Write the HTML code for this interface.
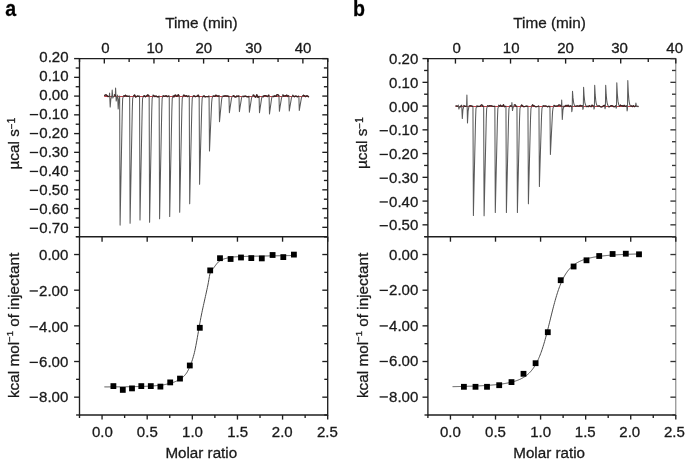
<!DOCTYPE html>
<html><head><meta charset="utf-8"><style>
html,body{margin:0;padding:0;background:#fff;width:685px;height:462px;overflow:hidden}
svg{display:block;will-change:transform}
text{stroke:#1a1a1a;stroke-width:0.3px}
</style></head><body>
<svg width="685" height="462" viewBox="0 0 685 462" style="font-family:'Liberation Sans', sans-serif"><g id="root">
<rect width="685" height="462" fill="#fff"/>
<line x1="79.50" y1="58.60" x2="327.70" y2="58.60" stroke="#1e1e1e" stroke-width="1.35"/>
<line x1="79.50" y1="236.70" x2="327.70" y2="236.70" stroke="#1e1e1e" stroke-width="1.35"/>
<line x1="79.50" y1="415.00" x2="327.70" y2="415.00" stroke="#1e1e1e" stroke-width="1.35"/>
<line x1="79.50" y1="58.00" x2="79.50" y2="415.60" stroke="#1e1e1e" stroke-width="1.35"/>
<line x1="327.70" y1="58.00" x2="327.70" y2="415.60" stroke="#1e1e1e" stroke-width="1.35"/>
<line x1="74.10" y1="58.60" x2="79.50" y2="58.60" stroke="#1e1e1e" stroke-width="1.35"/>
<line x1="322.30" y1="58.60" x2="327.70" y2="58.60" stroke="#1e1e1e" stroke-width="1.35"/>
<text transform="translate(68.50,62.30) scale(1.000,1)" text-anchor="end" font-size="15.0" font-weight="normal" fill="#1a1a1a">0.20</text>
<line x1="75.70" y1="67.97" x2="79.50" y2="67.97" stroke="#1e1e1e" stroke-width="1.35"/>
<line x1="323.90" y1="67.97" x2="327.70" y2="67.97" stroke="#1e1e1e" stroke-width="1.35"/>
<line x1="74.10" y1="77.35" x2="79.50" y2="77.35" stroke="#1e1e1e" stroke-width="1.35"/>
<line x1="322.30" y1="77.35" x2="327.70" y2="77.35" stroke="#1e1e1e" stroke-width="1.35"/>
<text transform="translate(68.50,81.46) scale(1.000,1)" text-anchor="end" font-size="15.0" font-weight="normal" fill="#1a1a1a">0.10</text>
<line x1="75.70" y1="86.72" x2="79.50" y2="86.72" stroke="#1e1e1e" stroke-width="1.35"/>
<line x1="323.90" y1="86.72" x2="327.70" y2="86.72" stroke="#1e1e1e" stroke-width="1.35"/>
<line x1="74.10" y1="96.09" x2="79.50" y2="96.09" stroke="#1e1e1e" stroke-width="1.35"/>
<line x1="322.30" y1="96.09" x2="327.70" y2="96.09" stroke="#1e1e1e" stroke-width="1.35"/>
<text transform="translate(68.50,100.40) scale(1.000,1)" text-anchor="end" font-size="15.0" font-weight="normal" fill="#1a1a1a">0.00</text>
<line x1="75.70" y1="105.47" x2="79.50" y2="105.47" stroke="#1e1e1e" stroke-width="1.35"/>
<line x1="323.90" y1="105.47" x2="327.70" y2="105.47" stroke="#1e1e1e" stroke-width="1.35"/>
<line x1="74.10" y1="114.84" x2="79.50" y2="114.84" stroke="#1e1e1e" stroke-width="1.35"/>
<line x1="322.30" y1="114.84" x2="327.70" y2="114.84" stroke="#1e1e1e" stroke-width="1.35"/>
<text transform="translate(68.50,119.34) scale(1.000,1)" text-anchor="end" font-size="15.0" font-weight="normal" fill="#1a1a1a">0.10</text>
<rect x="29.80" y="113.94" width="8.3" height="1.35" fill="#1a1a1a"/>
<line x1="75.70" y1="124.22" x2="79.50" y2="124.22" stroke="#1e1e1e" stroke-width="1.35"/>
<line x1="323.90" y1="124.22" x2="327.70" y2="124.22" stroke="#1e1e1e" stroke-width="1.35"/>
<line x1="74.10" y1="133.59" x2="79.50" y2="133.59" stroke="#1e1e1e" stroke-width="1.35"/>
<line x1="322.30" y1="133.59" x2="327.70" y2="133.59" stroke="#1e1e1e" stroke-width="1.35"/>
<text transform="translate(68.50,138.28) scale(1.000,1)" text-anchor="end" font-size="15.0" font-weight="normal" fill="#1a1a1a">0.20</text>
<rect x="29.80" y="132.88" width="8.3" height="1.35" fill="#1a1a1a"/>
<line x1="75.70" y1="142.96" x2="79.50" y2="142.96" stroke="#1e1e1e" stroke-width="1.35"/>
<line x1="323.90" y1="142.96" x2="327.70" y2="142.96" stroke="#1e1e1e" stroke-width="1.35"/>
<line x1="74.10" y1="152.34" x2="79.50" y2="152.34" stroke="#1e1e1e" stroke-width="1.35"/>
<line x1="322.30" y1="152.34" x2="327.70" y2="152.34" stroke="#1e1e1e" stroke-width="1.35"/>
<text transform="translate(68.50,157.22) scale(1.000,1)" text-anchor="end" font-size="15.0" font-weight="normal" fill="#1a1a1a">0.30</text>
<rect x="29.80" y="151.82" width="8.3" height="1.35" fill="#1a1a1a"/>
<line x1="75.70" y1="161.71" x2="79.50" y2="161.71" stroke="#1e1e1e" stroke-width="1.35"/>
<line x1="323.90" y1="161.71" x2="327.70" y2="161.71" stroke="#1e1e1e" stroke-width="1.35"/>
<line x1="74.10" y1="171.08" x2="79.50" y2="171.08" stroke="#1e1e1e" stroke-width="1.35"/>
<line x1="322.30" y1="171.08" x2="327.70" y2="171.08" stroke="#1e1e1e" stroke-width="1.35"/>
<text transform="translate(68.50,176.16) scale(1.000,1)" text-anchor="end" font-size="15.0" font-weight="normal" fill="#1a1a1a">0.40</text>
<rect x="29.80" y="170.76" width="8.3" height="1.35" fill="#1a1a1a"/>
<line x1="75.70" y1="180.46" x2="79.50" y2="180.46" stroke="#1e1e1e" stroke-width="1.35"/>
<line x1="323.90" y1="180.46" x2="327.70" y2="180.46" stroke="#1e1e1e" stroke-width="1.35"/>
<line x1="74.10" y1="189.83" x2="79.50" y2="189.83" stroke="#1e1e1e" stroke-width="1.35"/>
<line x1="322.30" y1="189.83" x2="327.70" y2="189.83" stroke="#1e1e1e" stroke-width="1.35"/>
<text transform="translate(68.50,195.10) scale(1.000,1)" text-anchor="end" font-size="15.0" font-weight="normal" fill="#1a1a1a">0.50</text>
<rect x="29.80" y="189.70" width="8.3" height="1.35" fill="#1a1a1a"/>
<line x1="75.70" y1="199.21" x2="79.50" y2="199.21" stroke="#1e1e1e" stroke-width="1.35"/>
<line x1="323.90" y1="199.21" x2="327.70" y2="199.21" stroke="#1e1e1e" stroke-width="1.35"/>
<line x1="74.10" y1="208.58" x2="79.50" y2="208.58" stroke="#1e1e1e" stroke-width="1.35"/>
<line x1="322.30" y1="208.58" x2="327.70" y2="208.58" stroke="#1e1e1e" stroke-width="1.35"/>
<text transform="translate(68.50,214.04) scale(1.000,1)" text-anchor="end" font-size="15.0" font-weight="normal" fill="#1a1a1a">0.60</text>
<rect x="29.80" y="208.64" width="8.3" height="1.35" fill="#1a1a1a"/>
<line x1="75.70" y1="217.95" x2="79.50" y2="217.95" stroke="#1e1e1e" stroke-width="1.35"/>
<line x1="323.90" y1="217.95" x2="327.70" y2="217.95" stroke="#1e1e1e" stroke-width="1.35"/>
<line x1="74.10" y1="227.33" x2="79.50" y2="227.33" stroke="#1e1e1e" stroke-width="1.35"/>
<line x1="322.30" y1="227.33" x2="327.70" y2="227.33" stroke="#1e1e1e" stroke-width="1.35"/>
<text transform="translate(68.50,232.98) scale(1.000,1)" text-anchor="end" font-size="15.0" font-weight="normal" fill="#1a1a1a">0.70</text>
<rect x="29.80" y="227.58" width="8.3" height="1.35" fill="#1a1a1a"/>
<line x1="75.70" y1="236.70" x2="79.50" y2="236.70" stroke="#1e1e1e" stroke-width="1.35"/>
<line x1="323.90" y1="236.70" x2="327.70" y2="236.70" stroke="#1e1e1e" stroke-width="1.35"/>
<line x1="79.50" y1="58.60" x2="79.50" y2="62.00" stroke="#1e1e1e" stroke-width="1.35"/>
<line x1="104.32" y1="58.60" x2="104.32" y2="63.60" stroke="#1e1e1e" stroke-width="1.35"/>
<text transform="translate(105.32,53.40) scale(1.000,1)" text-anchor="middle" font-size="15.0" font-weight="normal" fill="#1a1a1a">0</text>
<line x1="129.14" y1="58.60" x2="129.14" y2="62.00" stroke="#1e1e1e" stroke-width="1.35"/>
<line x1="153.96" y1="58.60" x2="153.96" y2="63.60" stroke="#1e1e1e" stroke-width="1.35"/>
<text transform="translate(154.86,53.40) scale(1.000,1)" text-anchor="middle" font-size="15.0" font-weight="normal" fill="#1a1a1a">10</text>
<line x1="178.78" y1="58.60" x2="178.78" y2="62.00" stroke="#1e1e1e" stroke-width="1.35"/>
<line x1="203.60" y1="58.60" x2="203.60" y2="63.60" stroke="#1e1e1e" stroke-width="1.35"/>
<text transform="translate(203.80,53.40) scale(1.000,1)" text-anchor="middle" font-size="15.0" font-weight="normal" fill="#1a1a1a">20</text>
<line x1="228.42" y1="58.60" x2="228.42" y2="62.00" stroke="#1e1e1e" stroke-width="1.35"/>
<line x1="253.24" y1="58.60" x2="253.24" y2="63.60" stroke="#1e1e1e" stroke-width="1.35"/>
<text transform="translate(253.54,53.40) scale(1.000,1)" text-anchor="middle" font-size="15.0" font-weight="normal" fill="#1a1a1a">30</text>
<line x1="278.06" y1="58.60" x2="278.06" y2="62.00" stroke="#1e1e1e" stroke-width="1.35"/>
<line x1="302.88" y1="58.60" x2="302.88" y2="63.60" stroke="#1e1e1e" stroke-width="1.35"/>
<text transform="translate(303.08,53.40) scale(1.000,1)" text-anchor="middle" font-size="15.0" font-weight="normal" fill="#1a1a1a">40</text>
<line x1="327.70" y1="58.60" x2="327.70" y2="62.00" stroke="#1e1e1e" stroke-width="1.35"/>
<line x1="76.10" y1="236.70" x2="79.50" y2="236.70" stroke="#1e1e1e" stroke-width="1.35"/>
<line x1="324.30" y1="236.70" x2="327.70" y2="236.70" stroke="#1e1e1e" stroke-width="1.35"/>
<line x1="74.10" y1="254.53" x2="79.50" y2="254.53" stroke="#1e1e1e" stroke-width="1.35"/>
<line x1="322.30" y1="254.53" x2="327.70" y2="254.53" stroke="#1e1e1e" stroke-width="1.35"/>
<text transform="translate(68.30,259.93) scale(1.000,1)" text-anchor="end" font-size="15.0" font-weight="normal" fill="#1a1a1a">0.00</text>
<line x1="76.10" y1="272.36" x2="79.50" y2="272.36" stroke="#1e1e1e" stroke-width="1.35"/>
<line x1="324.30" y1="272.36" x2="327.70" y2="272.36" stroke="#1e1e1e" stroke-width="1.35"/>
<line x1="74.10" y1="290.19" x2="79.50" y2="290.19" stroke="#1e1e1e" stroke-width="1.35"/>
<line x1="322.30" y1="290.19" x2="327.70" y2="290.19" stroke="#1e1e1e" stroke-width="1.35"/>
<text transform="translate(68.30,295.69) scale(1.000,1)" text-anchor="end" font-size="15.0" font-weight="normal" fill="#1a1a1a">2.00</text>
<rect x="29.60" y="290.29" width="8.3" height="1.35" fill="#1a1a1a"/>
<line x1="76.10" y1="308.02" x2="79.50" y2="308.02" stroke="#1e1e1e" stroke-width="1.35"/>
<line x1="324.30" y1="308.02" x2="327.70" y2="308.02" stroke="#1e1e1e" stroke-width="1.35"/>
<line x1="74.10" y1="325.85" x2="79.50" y2="325.85" stroke="#1e1e1e" stroke-width="1.35"/>
<line x1="322.30" y1="325.85" x2="327.70" y2="325.85" stroke="#1e1e1e" stroke-width="1.35"/>
<text transform="translate(68.30,331.55) scale(1.000,1)" text-anchor="end" font-size="15.0" font-weight="normal" fill="#1a1a1a">4.00</text>
<rect x="29.60" y="326.15" width="8.3" height="1.35" fill="#1a1a1a"/>
<line x1="76.10" y1="343.68" x2="79.50" y2="343.68" stroke="#1e1e1e" stroke-width="1.35"/>
<line x1="324.30" y1="343.68" x2="327.70" y2="343.68" stroke="#1e1e1e" stroke-width="1.35"/>
<line x1="74.10" y1="361.51" x2="79.50" y2="361.51" stroke="#1e1e1e" stroke-width="1.35"/>
<line x1="322.30" y1="361.51" x2="327.70" y2="361.51" stroke="#1e1e1e" stroke-width="1.35"/>
<text transform="translate(68.30,367.11) scale(1.000,1)" text-anchor="end" font-size="15.0" font-weight="normal" fill="#1a1a1a">6.00</text>
<rect x="29.60" y="361.71" width="8.3" height="1.35" fill="#1a1a1a"/>
<line x1="76.10" y1="379.34" x2="79.50" y2="379.34" stroke="#1e1e1e" stroke-width="1.35"/>
<line x1="324.30" y1="379.34" x2="327.70" y2="379.34" stroke="#1e1e1e" stroke-width="1.35"/>
<line x1="74.10" y1="397.17" x2="79.50" y2="397.17" stroke="#1e1e1e" stroke-width="1.35"/>
<line x1="322.30" y1="397.17" x2="327.70" y2="397.17" stroke="#1e1e1e" stroke-width="1.35"/>
<text transform="translate(68.30,401.97) scale(1.000,1)" text-anchor="end" font-size="15.0" font-weight="normal" fill="#1a1a1a">8.00</text>
<rect x="29.60" y="396.57" width="8.3" height="1.35" fill="#1a1a1a"/>
<line x1="76.10" y1="415.00" x2="79.50" y2="415.00" stroke="#1e1e1e" stroke-width="1.35"/>
<line x1="324.30" y1="415.00" x2="327.70" y2="415.00" stroke="#1e1e1e" stroke-width="1.35"/>
<line x1="79.50" y1="415.00" x2="79.50" y2="418.00" stroke="#1e1e1e" stroke-width="1.35"/>
<line x1="102.06" y1="415.00" x2="102.06" y2="419.60" stroke="#1e1e1e" stroke-width="1.35"/>
<line x1="102.06" y1="236.70" x2="102.06" y2="241.70" stroke="#1e1e1e" stroke-width="1.35"/>
<text transform="translate(102.36,436.90) scale(1.000,1)" text-anchor="middle" font-size="15.0" font-weight="normal" fill="#1a1a1a">0.0</text>
<line x1="124.63" y1="415.00" x2="124.63" y2="418.00" stroke="#1e1e1e" stroke-width="1.35"/>
<line x1="147.19" y1="415.00" x2="147.19" y2="419.60" stroke="#1e1e1e" stroke-width="1.35"/>
<line x1="147.19" y1="236.70" x2="147.19" y2="241.70" stroke="#1e1e1e" stroke-width="1.35"/>
<text transform="translate(147.29,436.90) scale(1.000,1)" text-anchor="middle" font-size="15.0" font-weight="normal" fill="#1a1a1a">0.5</text>
<line x1="169.75" y1="415.00" x2="169.75" y2="418.00" stroke="#1e1e1e" stroke-width="1.35"/>
<line x1="192.32" y1="415.00" x2="192.32" y2="419.60" stroke="#1e1e1e" stroke-width="1.35"/>
<line x1="192.32" y1="236.70" x2="192.32" y2="241.70" stroke="#1e1e1e" stroke-width="1.35"/>
<text transform="translate(192.52,436.90) scale(1.000,1)" text-anchor="middle" font-size="15.0" font-weight="normal" fill="#1a1a1a">1.0</text>
<line x1="214.88" y1="415.00" x2="214.88" y2="418.00" stroke="#1e1e1e" stroke-width="1.35"/>
<line x1="237.45" y1="415.00" x2="237.45" y2="419.60" stroke="#1e1e1e" stroke-width="1.35"/>
<line x1="237.45" y1="236.70" x2="237.45" y2="241.70" stroke="#1e1e1e" stroke-width="1.35"/>
<text transform="translate(237.65,436.90) scale(1.000,1)" text-anchor="middle" font-size="15.0" font-weight="normal" fill="#1a1a1a">1.5</text>
<line x1="260.01" y1="415.00" x2="260.01" y2="418.00" stroke="#1e1e1e" stroke-width="1.35"/>
<line x1="282.57" y1="415.00" x2="282.57" y2="419.60" stroke="#1e1e1e" stroke-width="1.35"/>
<line x1="282.57" y1="236.70" x2="282.57" y2="241.70" stroke="#1e1e1e" stroke-width="1.35"/>
<text transform="translate(282.27,436.90) scale(1.000,1)" text-anchor="middle" font-size="15.0" font-weight="normal" fill="#1a1a1a">2.0</text>
<line x1="305.14" y1="415.00" x2="305.14" y2="418.00" stroke="#1e1e1e" stroke-width="1.35"/>
<line x1="327.70" y1="415.00" x2="327.70" y2="419.60" stroke="#1e1e1e" stroke-width="1.35"/>
<line x1="327.70" y1="236.70" x2="327.70" y2="241.70" stroke="#1e1e1e" stroke-width="1.35"/>
<text transform="translate(327.40,436.90) scale(1.000,1)" text-anchor="middle" font-size="15.0" font-weight="normal" fill="#1a1a1a">2.5</text>
<text transform="translate(201.40,27.80) scale(1.000,1)" text-anchor="middle" font-size="15.3" font-weight="normal" fill="#1a1a1a">Time (min)</text>
<text transform="translate(201.25,458.40) scale(1.000,1)" text-anchor="middle" font-size="15.2" font-weight="normal" fill="#1a1a1a">Molar ratio</text>
<text transform="translate(18.50,143.60) rotate(-90)" text-anchor="middle" font-size="15.3" fill="#1a1a1a">µcal s<tspan font-size="10" dy="-4.0">−1</tspan></text>
<text transform="translate(19.10,325.40) rotate(-90)" text-anchor="middle" font-size="15.3" fill="#1a1a1a">kcal mol<tspan font-size="9.6" dy="-5.8">−1</tspan><tspan dy="5.8"> of injectant</tspan></text>
<text transform="translate(5.30,16.00) scale(0.870,1)" text-anchor="start" font-size="22.5" font-weight="bold" fill="#000">a</text>
<line x1="427.90" y1="58.60" x2="675.80" y2="58.60" stroke="#1e1e1e" stroke-width="1.35"/>
<line x1="427.90" y1="236.70" x2="675.80" y2="236.70" stroke="#1e1e1e" stroke-width="1.35"/>
<line x1="427.90" y1="415.00" x2="675.80" y2="415.00" stroke="#1e1e1e" stroke-width="1.35"/>
<line x1="427.90" y1="58.00" x2="427.90" y2="415.60" stroke="#1e1e1e" stroke-width="1.35"/>
<line x1="675.80" y1="58.00" x2="675.80" y2="415.60" stroke="#777" stroke-width="1.0"/>
<line x1="422.50" y1="58.60" x2="427.90" y2="58.60" stroke="#1e1e1e" stroke-width="1.35"/>
<line x1="670.40" y1="58.60" x2="675.80" y2="58.60" stroke="#333" stroke-width="1.35"/>
<text transform="translate(418.30,64.20) scale(1.000,1)" text-anchor="end" font-size="15.0" font-weight="normal" fill="#1a1a1a">0.20</text>
<line x1="424.10" y1="70.47" x2="427.90" y2="70.47" stroke="#1e1e1e" stroke-width="1.35"/>
<line x1="672.00" y1="70.47" x2="675.80" y2="70.47" stroke="#333" stroke-width="1.35"/>
<line x1="422.50" y1="82.35" x2="427.90" y2="82.35" stroke="#1e1e1e" stroke-width="1.35"/>
<line x1="670.40" y1="82.35" x2="675.80" y2="82.35" stroke="#333" stroke-width="1.35"/>
<text transform="translate(418.30,87.95) scale(1.000,1)" text-anchor="end" font-size="15.0" font-weight="normal" fill="#1a1a1a">0.10</text>
<line x1="424.10" y1="94.22" x2="427.90" y2="94.22" stroke="#1e1e1e" stroke-width="1.35"/>
<line x1="672.00" y1="94.22" x2="675.80" y2="94.22" stroke="#333" stroke-width="1.35"/>
<line x1="422.50" y1="106.09" x2="427.90" y2="106.09" stroke="#1e1e1e" stroke-width="1.35"/>
<line x1="670.40" y1="106.09" x2="675.80" y2="106.09" stroke="#333" stroke-width="1.35"/>
<text transform="translate(418.30,111.69) scale(1.000,1)" text-anchor="end" font-size="15.0" font-weight="normal" fill="#1a1a1a">0.00</text>
<line x1="424.10" y1="117.97" x2="427.90" y2="117.97" stroke="#1e1e1e" stroke-width="1.35"/>
<line x1="672.00" y1="117.97" x2="675.80" y2="117.97" stroke="#333" stroke-width="1.35"/>
<line x1="422.50" y1="129.84" x2="427.90" y2="129.84" stroke="#1e1e1e" stroke-width="1.35"/>
<line x1="670.40" y1="129.84" x2="675.80" y2="129.84" stroke="#333" stroke-width="1.35"/>
<text transform="translate(418.30,135.44) scale(1.000,1)" text-anchor="end" font-size="15.0" font-weight="normal" fill="#1a1a1a">0.10</text>
<rect x="379.60" y="130.04" width="8.3" height="1.35" fill="#1a1a1a"/>
<line x1="424.10" y1="141.71" x2="427.90" y2="141.71" stroke="#1e1e1e" stroke-width="1.35"/>
<line x1="672.00" y1="141.71" x2="675.80" y2="141.71" stroke="#333" stroke-width="1.35"/>
<line x1="422.50" y1="153.59" x2="427.90" y2="153.59" stroke="#1e1e1e" stroke-width="1.35"/>
<line x1="670.40" y1="153.59" x2="675.80" y2="153.59" stroke="#333" stroke-width="1.35"/>
<text transform="translate(418.30,159.19) scale(1.000,1)" text-anchor="end" font-size="15.0" font-weight="normal" fill="#1a1a1a">0.20</text>
<rect x="379.60" y="153.79" width="8.3" height="1.35" fill="#1a1a1a"/>
<line x1="424.10" y1="165.46" x2="427.90" y2="165.46" stroke="#1e1e1e" stroke-width="1.35"/>
<line x1="672.00" y1="165.46" x2="675.80" y2="165.46" stroke="#333" stroke-width="1.35"/>
<line x1="422.50" y1="177.33" x2="427.90" y2="177.33" stroke="#1e1e1e" stroke-width="1.35"/>
<line x1="670.40" y1="177.33" x2="675.80" y2="177.33" stroke="#333" stroke-width="1.35"/>
<text transform="translate(418.30,182.93) scale(1.000,1)" text-anchor="end" font-size="15.0" font-weight="normal" fill="#1a1a1a">0.30</text>
<rect x="379.60" y="177.53" width="8.3" height="1.35" fill="#1a1a1a"/>
<line x1="424.10" y1="189.21" x2="427.90" y2="189.21" stroke="#1e1e1e" stroke-width="1.35"/>
<line x1="672.00" y1="189.21" x2="675.80" y2="189.21" stroke="#333" stroke-width="1.35"/>
<line x1="422.50" y1="201.08" x2="427.90" y2="201.08" stroke="#1e1e1e" stroke-width="1.35"/>
<line x1="670.40" y1="201.08" x2="675.80" y2="201.08" stroke="#333" stroke-width="1.35"/>
<text transform="translate(418.30,206.68) scale(1.000,1)" text-anchor="end" font-size="15.0" font-weight="normal" fill="#1a1a1a">0.40</text>
<rect x="379.60" y="201.28" width="8.3" height="1.35" fill="#1a1a1a"/>
<line x1="424.10" y1="212.95" x2="427.90" y2="212.95" stroke="#1e1e1e" stroke-width="1.35"/>
<line x1="672.00" y1="212.95" x2="675.80" y2="212.95" stroke="#333" stroke-width="1.35"/>
<line x1="422.50" y1="224.83" x2="427.90" y2="224.83" stroke="#1e1e1e" stroke-width="1.35"/>
<line x1="670.40" y1="224.83" x2="675.80" y2="224.83" stroke="#333" stroke-width="1.35"/>
<text transform="translate(418.30,230.43) scale(1.000,1)" text-anchor="end" font-size="15.0" font-weight="normal" fill="#1a1a1a">0.50</text>
<rect x="379.60" y="225.03" width="8.3" height="1.35" fill="#1a1a1a"/>
<line x1="424.10" y1="236.70" x2="427.90" y2="236.70" stroke="#1e1e1e" stroke-width="1.35"/>
<line x1="672.00" y1="236.70" x2="675.80" y2="236.70" stroke="#333" stroke-width="1.35"/>
<line x1="427.90" y1="58.60" x2="427.90" y2="62.00" stroke="#1e1e1e" stroke-width="1.35"/>
<line x1="455.44" y1="58.60" x2="455.44" y2="63.60" stroke="#1e1e1e" stroke-width="1.35"/>
<text transform="translate(456.74,53.40) scale(1.000,1)" text-anchor="middle" font-size="15.0" font-weight="normal" fill="#1a1a1a">0</text>
<line x1="482.99" y1="58.60" x2="482.99" y2="62.00" stroke="#1e1e1e" stroke-width="1.35"/>
<line x1="510.53" y1="58.60" x2="510.53" y2="63.60" stroke="#1e1e1e" stroke-width="1.35"/>
<text transform="translate(511.13,53.40) scale(1.000,1)" text-anchor="middle" font-size="15.0" font-weight="normal" fill="#1a1a1a">10</text>
<line x1="538.08" y1="58.60" x2="538.08" y2="62.00" stroke="#1e1e1e" stroke-width="1.35"/>
<line x1="565.62" y1="58.60" x2="565.62" y2="63.60" stroke="#1e1e1e" stroke-width="1.35"/>
<text transform="translate(565.62,53.40) scale(1.000,1)" text-anchor="middle" font-size="15.0" font-weight="normal" fill="#1a1a1a">20</text>
<line x1="593.17" y1="58.60" x2="593.17" y2="62.00" stroke="#1e1e1e" stroke-width="1.35"/>
<line x1="620.71" y1="58.60" x2="620.71" y2="63.60" stroke="#1e1e1e" stroke-width="1.35"/>
<text transform="translate(619.61,53.40) scale(1.000,1)" text-anchor="middle" font-size="15.0" font-weight="normal" fill="#1a1a1a">30</text>
<line x1="648.26" y1="58.60" x2="648.26" y2="62.00" stroke="#1e1e1e" stroke-width="1.35"/>
<line x1="675.80" y1="58.60" x2="675.80" y2="63.60" stroke="#1e1e1e" stroke-width="1.35"/>
<text transform="translate(674.70,53.40) scale(1.000,1)" text-anchor="middle" font-size="15.0" font-weight="normal" fill="#1a1a1a">40</text>
<line x1="424.50" y1="236.70" x2="427.90" y2="236.70" stroke="#1e1e1e" stroke-width="1.35"/>
<line x1="672.40" y1="236.70" x2="675.80" y2="236.70" stroke="#333" stroke-width="1.35"/>
<line x1="422.50" y1="254.53" x2="427.90" y2="254.53" stroke="#1e1e1e" stroke-width="1.35"/>
<line x1="670.40" y1="254.53" x2="675.80" y2="254.53" stroke="#333" stroke-width="1.35"/>
<text transform="translate(418.30,259.53) scale(1.000,1)" text-anchor="end" font-size="15.0" font-weight="normal" fill="#1a1a1a">0.00</text>
<line x1="424.50" y1="272.36" x2="427.90" y2="272.36" stroke="#1e1e1e" stroke-width="1.35"/>
<line x1="672.40" y1="272.36" x2="675.80" y2="272.36" stroke="#333" stroke-width="1.35"/>
<line x1="422.50" y1="290.19" x2="427.90" y2="290.19" stroke="#1e1e1e" stroke-width="1.35"/>
<line x1="670.40" y1="290.19" x2="675.80" y2="290.19" stroke="#333" stroke-width="1.35"/>
<text transform="translate(418.30,295.09) scale(1.000,1)" text-anchor="end" font-size="15.0" font-weight="normal" fill="#1a1a1a">2.00</text>
<rect x="379.60" y="289.69" width="8.3" height="1.35" fill="#1a1a1a"/>
<line x1="424.50" y1="308.02" x2="427.90" y2="308.02" stroke="#1e1e1e" stroke-width="1.35"/>
<line x1="672.40" y1="308.02" x2="675.80" y2="308.02" stroke="#333" stroke-width="1.35"/>
<line x1="422.50" y1="325.85" x2="427.90" y2="325.85" stroke="#1e1e1e" stroke-width="1.35"/>
<line x1="670.40" y1="325.85" x2="675.80" y2="325.85" stroke="#333" stroke-width="1.35"/>
<text transform="translate(418.30,330.65) scale(1.000,1)" text-anchor="end" font-size="15.0" font-weight="normal" fill="#1a1a1a">4.00</text>
<rect x="379.60" y="325.25" width="8.3" height="1.35" fill="#1a1a1a"/>
<line x1="424.50" y1="343.68" x2="427.90" y2="343.68" stroke="#1e1e1e" stroke-width="1.35"/>
<line x1="672.40" y1="343.68" x2="675.80" y2="343.68" stroke="#333" stroke-width="1.35"/>
<line x1="422.50" y1="361.51" x2="427.90" y2="361.51" stroke="#1e1e1e" stroke-width="1.35"/>
<line x1="670.40" y1="361.51" x2="675.80" y2="361.51" stroke="#333" stroke-width="1.35"/>
<text transform="translate(418.30,366.21) scale(1.000,1)" text-anchor="end" font-size="15.0" font-weight="normal" fill="#1a1a1a">6.00</text>
<rect x="379.60" y="360.81" width="8.3" height="1.35" fill="#1a1a1a"/>
<line x1="424.50" y1="379.34" x2="427.90" y2="379.34" stroke="#1e1e1e" stroke-width="1.35"/>
<line x1="672.40" y1="379.34" x2="675.80" y2="379.34" stroke="#333" stroke-width="1.35"/>
<line x1="422.50" y1="397.17" x2="427.90" y2="397.17" stroke="#1e1e1e" stroke-width="1.35"/>
<line x1="670.40" y1="397.17" x2="675.80" y2="397.17" stroke="#333" stroke-width="1.35"/>
<text transform="translate(418.30,401.67) scale(1.000,1)" text-anchor="end" font-size="15.0" font-weight="normal" fill="#1a1a1a">8.00</text>
<rect x="379.60" y="396.27" width="8.3" height="1.35" fill="#1a1a1a"/>
<line x1="424.50" y1="415.00" x2="427.90" y2="415.00" stroke="#1e1e1e" stroke-width="1.35"/>
<line x1="672.40" y1="415.00" x2="675.80" y2="415.00" stroke="#333" stroke-width="1.35"/>
<line x1="427.90" y1="415.00" x2="427.90" y2="418.00" stroke="#1e1e1e" stroke-width="1.35"/>
<line x1="450.44" y1="415.00" x2="450.44" y2="419.60" stroke="#1e1e1e" stroke-width="1.35"/>
<line x1="450.44" y1="236.70" x2="450.44" y2="241.70" stroke="#1e1e1e" stroke-width="1.35"/>
<text transform="translate(450.44,436.90) scale(1.000,1)" text-anchor="middle" font-size="15.0" font-weight="normal" fill="#1a1a1a">0.0</text>
<line x1="472.97" y1="415.00" x2="472.97" y2="418.00" stroke="#1e1e1e" stroke-width="1.35"/>
<line x1="495.51" y1="415.00" x2="495.51" y2="419.60" stroke="#1e1e1e" stroke-width="1.35"/>
<line x1="495.51" y1="236.70" x2="495.51" y2="241.70" stroke="#1e1e1e" stroke-width="1.35"/>
<text transform="translate(495.51,436.90) scale(1.000,1)" text-anchor="middle" font-size="15.0" font-weight="normal" fill="#1a1a1a">0.5</text>
<line x1="518.05" y1="415.00" x2="518.05" y2="418.00" stroke="#1e1e1e" stroke-width="1.35"/>
<line x1="540.58" y1="415.00" x2="540.58" y2="419.60" stroke="#1e1e1e" stroke-width="1.35"/>
<line x1="540.58" y1="236.70" x2="540.58" y2="241.70" stroke="#1e1e1e" stroke-width="1.35"/>
<text transform="translate(540.58,436.90) scale(1.000,1)" text-anchor="middle" font-size="15.0" font-weight="normal" fill="#1a1a1a">1.0</text>
<line x1="563.12" y1="415.00" x2="563.12" y2="418.00" stroke="#1e1e1e" stroke-width="1.35"/>
<line x1="585.65" y1="415.00" x2="585.65" y2="419.60" stroke="#1e1e1e" stroke-width="1.35"/>
<line x1="585.65" y1="236.70" x2="585.65" y2="241.70" stroke="#1e1e1e" stroke-width="1.35"/>
<text transform="translate(585.25,436.90) scale(1.000,1)" text-anchor="middle" font-size="15.0" font-weight="normal" fill="#1a1a1a">1.5</text>
<line x1="608.19" y1="415.00" x2="608.19" y2="418.00" stroke="#1e1e1e" stroke-width="1.35"/>
<line x1="630.73" y1="415.00" x2="630.73" y2="419.60" stroke="#1e1e1e" stroke-width="1.35"/>
<line x1="630.73" y1="236.70" x2="630.73" y2="241.70" stroke="#1e1e1e" stroke-width="1.35"/>
<text transform="translate(629.73,436.90) scale(1.000,1)" text-anchor="middle" font-size="15.0" font-weight="normal" fill="#1a1a1a">2.0</text>
<line x1="653.26" y1="415.00" x2="653.26" y2="418.00" stroke="#1e1e1e" stroke-width="1.35"/>
<line x1="675.80" y1="415.00" x2="675.80" y2="419.60" stroke="#1e1e1e" stroke-width="1.35"/>
<line x1="675.80" y1="236.70" x2="675.80" y2="241.70" stroke="#1e1e1e" stroke-width="1.35"/>
<text transform="translate(674.30,436.90) scale(1.000,1)" text-anchor="middle" font-size="15.0" font-weight="normal" fill="#1a1a1a">2.5</text>
<text transform="translate(549.50,27.80) scale(1.000,1)" text-anchor="middle" font-size="15.3" font-weight="normal" fill="#1a1a1a">Time (min)</text>
<text transform="translate(549.10,458.40) scale(1.000,1)" text-anchor="middle" font-size="15.2" font-weight="normal" fill="#1a1a1a">Molar ratio</text>
<text transform="translate(366.90,143.10) rotate(-90)" text-anchor="middle" font-size="15.3" fill="#1a1a1a">µcal s<tspan font-size="10" dy="-4.0">−1</tspan></text>
<text transform="translate(367.50,325.40) rotate(-90)" text-anchor="middle" font-size="15.3" fill="#1a1a1a">kcal mol<tspan font-size="9.6" dy="-5.8">−1</tspan><tspan dy="5.8"> of injectant</tspan></text>
<text transform="translate(353.00,16.00) scale(0.870,1)" text-anchor="start" font-size="22.5" font-weight="bold" fill="#000">b</text>
<line x1="104.30" y1="96.50" x2="308.80" y2="96.50" stroke="#c23a44" stroke-width="1.0"/>
<path d="M104.30,95.78 L105.36,94.92 L106.31,94.94 L107.12,95.68 L107.96,96.59 L108.81,96.35 L109.30,96.19 L109.30,96.09 L109.60,93.09 L110.20,107.09 L110.80,99.39 L111.70,96.09 L111.70,96.07 L111.90,96.19 L111.90,96.09 L112.20,90.09 L112.80,98.09 L113.40,96.69 L114.30,96.09 L114.30,94.69 L115.22,95.21 L115.30,96.19 L115.30,96.09 L115.60,88.09 L116.20,101.09 L116.80,97.59 L117.70,96.09 L117.30,96.09 L117.60,95.09 L118.20,109.09 L118.80,99.99 L119.70,96.09 L119.65,96.09 L120.10,225.10 L120.75,188.98 L121.75,137.38 L122.25,111.58 L122.65,98.59 L123.45,96.09 L123.45,95.81 L124.48,96.04 L125.50,95.25 L126.38,96.11 L127.31,96.14 L128.23,96.43 L129.13,96.22 L129.65,96.19 L129.65,96.09 L130.10,223.20 L130.75,187.61 L131.75,136.77 L132.25,111.35 L132.65,98.59 L133.45,96.09 L133.45,95.94 L134.64,95.00 L135.74,97.09 L136.56,96.51 L137.59,95.97 L138.67,96.29 L139.55,96.19 L139.55,96.09 L140.00,219.90 L140.65,185.23 L141.65,135.71 L142.15,110.95 L142.55,98.59 L143.35,96.09 L143.35,96.73 L144.34,95.67 L145.42,96.79 L146.55,96.06 L147.62,94.97 L148.48,95.25 L149.15,96.19 L149.15,96.09 L149.60,222.30 L150.25,186.96 L151.25,136.48 L151.75,111.24 L152.15,98.59 L152.95,96.09 L152.95,95.12 L153.91,95.69 L154.89,96.65 L156.01,95.93 L156.98,96.66 L158.16,96.90 L159.06,96.18 L159.15,96.19 L159.15,96.09 L159.60,218.80 L160.25,184.44 L161.25,135.36 L161.75,110.82 L162.15,98.59 L162.95,96.09 L162.95,95.60 L163.92,96.27 L165.10,96.21 L166.15,95.66 L167.31,96.64 L168.42,96.07 L169.25,96.19 L169.25,96.09 L169.70,216.40 L170.35,182.71 L171.35,134.59 L171.85,110.53 L172.25,98.59 L173.05,96.09 L173.05,95.67 L173.88,96.89 L174.81,95.29 L175.67,95.04 L176.48,96.33 L177.34,96.01 L178.29,94.70 L179.25,96.19 L179.25,96.09 L179.70,212.30 L180.35,179.76 L181.35,133.28 L181.85,110.04 L182.25,98.59 L183.05,96.09 L183.05,96.18 L183.88,95.05 L184.79,95.79 L185.60,96.23 L186.46,95.63 L187.47,96.63 L188.55,96.03 L189.25,96.19 L189.25,96.09 L189.70,203.70 L190.35,173.57 L191.35,130.53 L191.85,109.01 L192.25,98.59 L193.05,96.09 L193.05,96.23 L194.16,95.86 L195.29,96.62 L196.41,96.48 L197.30,96.02 L198.11,95.10 L199.01,96.74 L199.15,96.19 L199.15,96.09 L199.60,184.20 L200.25,159.53 L201.25,124.29 L201.75,106.67 L202.15,98.59 L202.95,96.09 L202.95,96.78 L204.13,95.86 L205.02,96.92 L206.07,96.60 L207.06,96.55 L207.90,96.69 L209.01,96.17 L209.05,96.19 L209.05,96.09 L209.50,151.10 L210.15,135.70 L211.15,113.70 L211.65,102.70 L212.05,98.59 L212.85,96.09 L212.85,95.99 L213.97,96.07 L214.93,96.46 L215.80,95.19 L216.96,95.77 L218.09,96.38 L219.03,95.75 L219.05,96.19 L219.05,96.09 L219.50,121.80 L220.15,114.60 L221.15,104.32 L221.65,99.18 L222.05,97.38 L222.85,96.09 L222.85,96.37 L223.86,96.12 L225.01,95.85 L225.91,95.88 L226.94,96.10 L227.80,96.02 L228.78,96.68 L228.95,96.19 L228.95,96.09 L229.40,112.70 L230.05,108.05 L231.05,101.41 L231.55,98.09 L231.95,96.92 L232.75,96.09 L232.75,96.20 L233.76,95.62 L234.74,96.80 L235.86,97.08 L236.95,95.99 L237.96,96.54 L238.80,95.89 L238.95,96.19 L238.95,96.09 L239.40,111.60 L240.05,107.26 L241.05,101.06 L241.55,97.96 L241.95,96.87 L242.75,96.09 L242.75,96.20 L243.77,96.69 L244.75,96.20 L245.76,96.14 L246.77,96.72 L247.85,96.73 L248.75,96.73 L248.95,96.19 L248.95,96.09 L249.40,112.20 L250.05,107.69 L251.05,101.25 L251.55,98.03 L251.95,96.90 L252.75,96.09 L252.75,95.21 L253.73,95.13 L254.56,96.54 L255.71,97.22 L256.78,94.68 L257.97,97.37 L258.93,96.78 L259.05,96.19 L259.05,96.09 L259.50,112.70 L260.15,108.05 L261.15,101.41 L261.65,98.09 L262.05,96.92 L262.85,96.09 L262.85,97.05 L263.86,95.83 L264.78,95.62 L265.81,95.62 L266.74,96.21 L267.56,96.54 L268.75,95.11 L269.05,96.19 L269.05,96.09 L269.50,113.90 L270.15,108.91 L271.15,101.79 L271.65,98.23 L272.05,96.98 L272.85,96.09 L272.85,95.92 L273.70,96.69 L274.83,95.77 L276.00,96.44 L276.83,94.81 L277.80,94.64 L278.86,95.70 L278.95,96.19 L278.95,96.09 L279.40,111.30 L280.05,107.04 L281.05,100.96 L281.55,97.92 L281.95,96.86 L282.75,96.09 L282.75,94.69 L283.73,96.26 L284.90,95.75 L285.91,95.73 L286.78,95.15 L287.70,96.51 L288.62,95.81 L288.85,96.19 L288.85,96.09 L289.30,110.90 L289.95,106.75 L290.95,100.83 L291.45,97.87 L291.85,96.83 L292.65,96.09 L292.65,95.12 L293.46,96.26 L294.33,96.72 L295.17,96.11 L296.17,96.07 L297.18,96.77 L298.11,96.44 L298.85,96.19 L298.85,96.09 L299.30,110.40 L299.95,106.39 L300.95,100.67 L301.45,97.81 L301.85,96.81 L302.65,96.09 L302.65,96.01 L303.47,95.25 L304.57,95.79 L305.40,96.64 L306.47,95.89 L307.39,95.78 L308.37,96.75 L308.80,96.19" fill="none" stroke="#5a5a5a" stroke-width="1.05" stroke-linejoin="round"/>
<path d="M104.30,95.78 L105.36,94.92 L106.31,94.94 L107.12,95.68 L107.96,96.59 L108.81,96.35 L109.30,96.19 M111.70,96.07 L111.90,96.19 M114.30,94.69 L115.22,95.21 L115.30,96.19 M123.45,95.81 L124.48,96.04 L125.50,95.25 L126.38,96.11 L127.31,96.14 L128.23,96.43 L129.13,96.22 L129.65,96.19 M133.45,95.94 L134.64,95.00 L135.74,97.09 L136.56,96.51 L137.59,95.97 L138.67,96.29 L139.55,96.19 M143.35,96.73 L144.34,95.67 L145.42,96.79 L146.55,96.06 L147.62,94.97 L148.48,95.25 L149.15,96.19 M152.95,95.12 L153.91,95.69 L154.89,96.65 L156.01,95.93 L156.98,96.66 L158.16,96.90 L159.06,96.18 L159.15,96.19 M162.95,95.60 L163.92,96.27 L165.10,96.21 L166.15,95.66 L167.31,96.64 L168.42,96.07 L169.25,96.19 M173.05,95.67 L173.88,96.89 L174.81,95.29 L175.67,95.04 L176.48,96.33 L177.34,96.01 L178.29,94.70 L179.25,96.19 M183.05,96.18 L183.88,95.05 L184.79,95.79 L185.60,96.23 L186.46,95.63 L187.47,96.63 L188.55,96.03 L189.25,96.19 M193.05,96.23 L194.16,95.86 L195.29,96.62 L196.41,96.48 L197.30,96.02 L198.11,95.10 L199.01,96.74 L199.15,96.19 M202.95,96.78 L204.13,95.86 L205.02,96.92 L206.07,96.60 L207.06,96.55 L207.90,96.69 L209.01,96.17 L209.05,96.19 M212.85,95.99 L213.97,96.07 L214.93,96.46 L215.80,95.19 L216.96,95.77 L218.09,96.38 L219.03,95.75 L219.05,96.19 M222.85,96.37 L223.86,96.12 L225.01,95.85 L225.91,95.88 L226.94,96.10 L227.80,96.02 L228.78,96.68 L228.95,96.19 M232.75,96.20 L233.76,95.62 L234.74,96.80 L235.86,97.08 L236.95,95.99 L237.96,96.54 L238.80,95.89 L238.95,96.19 M242.75,96.20 L243.77,96.69 L244.75,96.20 L245.76,96.14 L246.77,96.72 L247.85,96.73 L248.75,96.73 L248.95,96.19 M252.75,95.21 L253.73,95.13 L254.56,96.54 L255.71,97.22 L256.78,94.68 L257.97,97.37 L258.93,96.78 L259.05,96.19 M262.85,97.05 L263.86,95.83 L264.78,95.62 L265.81,95.62 L266.74,96.21 L267.56,96.54 L268.75,95.11 L269.05,96.19 M272.85,95.92 L273.70,96.69 L274.83,95.77 L276.00,96.44 L276.83,94.81 L277.80,94.64 L278.86,95.70 L278.95,96.19 M282.75,94.69 L283.73,96.26 L284.90,95.75 L285.91,95.73 L286.78,95.15 L287.70,96.51 L288.62,95.81 L288.85,96.19 M292.65,95.12 L293.46,96.26 L294.33,96.72 L295.17,96.11 L296.17,96.07 L297.18,96.77 L298.11,96.44 L298.85,96.19 M302.65,96.01 L303.47,95.25 L304.57,95.79 L305.40,96.64 L306.47,95.89 L307.39,95.78 L308.37,96.75 L308.80,96.19" fill="none" stroke="#3d1a1a" stroke-width="1.3" stroke-linejoin="round" opacity="0.9"/>
<line x1="455.60" y1="106.50" x2="638.20" y2="106.50" stroke="#c23a44" stroke-width="1.0"/>
<path d="M455.60,105.89 L456.79,106.02 L457.59,106.16 L458.00,106.19 L458.00,106.09 L458.30,105.09 L458.90,109.09 L459.50,106.99 L460.40,106.09 L460.40,107.10 L461.20,105.70 L461.40,106.19 L461.40,106.09 L461.70,105.09 L462.30,118.59 L462.90,109.84 L463.80,106.09 L463.80,105.28 L464.72,106.30 L465.73,106.38 L466.60,106.19 L466.60,106.09 L466.90,95.09 L467.50,123.09 L468.10,111.19 L469.00,106.09 L469.00,106.06 L469.93,105.77 L471.02,105.65 L472.15,106.35 L472.95,106.19 L472.95,106.09 L473.40,215.40 L474.05,184.79 L475.05,141.07 L475.55,119.21 L475.95,108.59 L476.75,106.09 L476.75,105.76 L477.76,106.60 L478.88,106.29 L480.04,106.43 L480.93,105.20 L481.87,104.71 L482.90,106.34 L483.65,106.19 L483.65,106.09 L484.10,215.80 L484.75,185.08 L485.75,141.20 L486.25,119.26 L486.65,108.59 L487.45,106.09 L487.45,105.60 L488.57,106.20 L489.58,105.67 L490.68,105.68 L491.58,105.84 L492.68,106.19 L493.63,106.41 L494.74,106.36 L494.85,106.19 L494.85,106.09 L495.30,212.40 L495.95,182.63 L496.95,140.11 L497.45,118.85 L497.85,108.59 L498.65,106.09 L498.65,105.12 L499.75,106.27 L500.55,105.11 L501.62,106.40 L502.54,106.15 L503.52,104.67 L504.40,106.72 L505.21,106.58 L505.95,106.19 L505.95,106.09 L506.40,212.40 L507.05,182.63 L508.05,140.11 L508.55,118.85 L508.95,108.59 L509.75,106.09 L509.75,105.92 L510.63,105.85 L511.60,106.19 L511.60,106.09 L511.90,102.59 L512.50,110.59 L513.10,107.44 L514.00,106.09 L514.00,104.93 L515.18,104.72 L516.18,106.44 L516.95,106.19 L516.95,106.09 L517.40,212.40 L518.05,182.63 L519.05,140.11 L519.55,118.85 L519.95,108.59 L520.75,106.09 L520.75,106.18 L521.56,104.95 L522.54,105.76 L523.48,106.60 L524.28,106.60 L525.13,106.45 L526.29,106.04 L527.24,106.30 L527.95,106.19 L527.95,106.09 L528.40,203.80 L529.05,176.44 L530.05,137.36 L530.55,117.82 L530.95,108.59 L531.75,106.09 L531.75,105.92 L532.57,104.71 L533.48,105.89 L534.39,105.82 L535.34,106.65 L536.46,106.69 L537.64,106.46 L538.46,106.13 L538.95,106.19 L538.95,106.09 L539.40,186.40 L540.05,163.91 L541.05,131.79 L541.55,115.73 L541.95,108.59 L542.75,106.09 L542.75,105.94 L543.57,105.75 L544.56,105.95 L545.65,105.91 L546.72,106.26 L547.67,106.89 L548.56,106.19 L549.45,106.79 L549.95,106.19 L549.95,106.09 L550.40,154.40 L551.05,140.87 L552.05,121.55 L552.55,111.89 L552.95,108.51 L553.75,106.09 L553.75,105.16 L554.59,105.70 L555.48,106.28 L556.64,106.09 L557.60,106.05 L558.54,105.10 L559.72,104.94 L560.78,105.85 L561.40,106.19 L561.40,106.09 L561.70,100.09 L562.30,119.59 L562.90,110.14 L563.80,106.09 L563.80,106.07 L564.78,106.61 L565.93,105.27 L567.01,106.16 L568.05,105.02 L569.22,106.62 L570.41,105.72 L571.27,106.41 L571.50,106.19 L571.50,106.09 L571.80,111.60 L572.20,109.40 L572.50,91.20 L573.00,97.90 L573.70,103.11 L574.50,105.35 L575.10,106.09 L575.10,106.37 L576.21,106.26 L577.02,105.87 L578.19,105.96 L579.04,106.36 L580.12,105.24 L581.13,106.06 L582.02,105.61 L582.60,106.19 L582.60,106.09 L582.90,109.40 L583.30,108.08 L583.60,87.20 L584.10,95.70 L584.80,102.31 L585.60,105.15 L586.20,106.09 L586.20,106.74 L587.26,106.16 L588.15,106.75 L589.23,105.62 L590.23,106.10 L591.14,106.70 L592.03,105.06 L592.99,105.83 L593.70,106.19 L593.70,106.09 L594.00,109.10 L594.40,107.90 L594.70,85.30 L595.20,94.66 L595.90,101.93 L596.70,105.05 L597.30,106.09 L597.30,106.20 L598.18,105.97 L599.31,105.86 L600.41,106.74 L601.41,106.93 L602.38,106.73 L603.24,105.85 L604.43,105.26 L604.70,106.19 L604.70,106.09 L605.00,108.70 L605.40,107.66 L605.70,85.30 L606.20,94.66 L606.90,101.93 L607.70,105.05 L608.30,106.09 L608.30,106.67 L609.45,106.79 L610.63,105.82 L611.80,105.63 L612.87,106.04 L613.80,106.80 L614.71,106.74 L615.56,105.84 L615.80,106.19 L615.80,106.09 L616.10,108.20 L616.50,107.36 L616.80,82.70 L617.30,93.23 L618.00,101.41 L618.80,104.92 L619.40,106.09 L619.40,106.58 L620.37,104.96 L621.32,105.82 L622.27,105.63 L623.23,106.51 L624.05,105.25 L625.22,106.49 L626.38,105.92 L626.80,106.19 L626.80,106.09 L627.10,110.90 L627.50,108.98 L627.80,80.50 L628.30,92.02 L629.00,100.97 L629.80,104.81 L630.40,106.09 L630.40,105.91 L631.49,105.92 L632.29,106.69 L633.34,105.62 L634.24,106.74 L635.42,105.89 L635.60,106.19 L635.60,106.09 L635.90,103.09 L636.50,106.59 L637.10,106.24 L638.00,106.09 L638.00,106.71 L638.20,106.19" fill="none" stroke="#5a5a5a" stroke-width="1.05" stroke-linejoin="round"/>
<path d="M455.60,105.89 L456.79,106.02 L457.59,106.16 L458.00,106.19 M460.40,107.10 L461.20,105.70 L461.40,106.19 M463.80,105.28 L464.72,106.30 L465.73,106.38 L466.60,106.19 M469.00,106.06 L469.93,105.77 L471.02,105.65 L472.15,106.35 L472.95,106.19 M476.75,105.76 L477.76,106.60 L478.88,106.29 L480.04,106.43 L480.93,105.20 L481.87,104.71 L482.90,106.34 L483.65,106.19 M487.45,105.60 L488.57,106.20 L489.58,105.67 L490.68,105.68 L491.58,105.84 L492.68,106.19 L493.63,106.41 L494.74,106.36 L494.85,106.19 M498.65,105.12 L499.75,106.27 L500.55,105.11 L501.62,106.40 L502.54,106.15 L503.52,104.67 L504.40,106.72 L505.21,106.58 L505.95,106.19 M509.75,105.92 L510.63,105.85 L511.60,106.19 M514.00,104.93 L515.18,104.72 L516.18,106.44 L516.95,106.19 M520.75,106.18 L521.56,104.95 L522.54,105.76 L523.48,106.60 L524.28,106.60 L525.13,106.45 L526.29,106.04 L527.24,106.30 L527.95,106.19 M531.75,105.92 L532.57,104.71 L533.48,105.89 L534.39,105.82 L535.34,106.65 L536.46,106.69 L537.64,106.46 L538.46,106.13 L538.95,106.19 M542.75,105.94 L543.57,105.75 L544.56,105.95 L545.65,105.91 L546.72,106.26 L547.67,106.89 L548.56,106.19 L549.45,106.79 L549.95,106.19 M553.75,105.16 L554.59,105.70 L555.48,106.28 L556.64,106.09 L557.60,106.05 L558.54,105.10 L559.72,104.94 L560.78,105.85 L561.40,106.19 M563.80,106.07 L564.78,106.61 L565.93,105.27 L567.01,106.16 L568.05,105.02 L569.22,106.62 L570.41,105.72 L571.27,106.41 L571.50,106.19 M575.10,106.37 L576.21,106.26 L577.02,105.87 L578.19,105.96 L579.04,106.36 L580.12,105.24 L581.13,106.06 L582.02,105.61 L582.60,106.19 M586.20,106.74 L587.26,106.16 L588.15,106.75 L589.23,105.62 L590.23,106.10 L591.14,106.70 L592.03,105.06 L592.99,105.83 L593.70,106.19 M597.30,106.20 L598.18,105.97 L599.31,105.86 L600.41,106.74 L601.41,106.93 L602.38,106.73 L603.24,105.85 L604.43,105.26 L604.70,106.19 M608.30,106.67 L609.45,106.79 L610.63,105.82 L611.80,105.63 L612.87,106.04 L613.80,106.80 L614.71,106.74 L615.56,105.84 L615.80,106.19 M619.40,106.58 L620.37,104.96 L621.32,105.82 L622.27,105.63 L623.23,106.51 L624.05,105.25 L625.22,106.49 L626.38,105.92 L626.80,106.19 M630.40,105.91 L631.49,105.92 L632.29,106.69 L633.34,105.62 L634.24,106.74 L635.42,105.89 L635.60,106.19 M638.00,106.71 L638.20,106.19" fill="none" stroke="#3d1a1a" stroke-width="1.1" stroke-linejoin="round" opacity="0.9"/>
<path d="M104.40,386.90 L104.90,386.90 L105.40,386.90 L105.90,386.90 L106.40,386.90 L106.90,386.90 L107.40,386.90 L107.90,386.90 L108.40,386.89 L108.90,386.89 L109.40,386.89 L109.90,386.89 L110.40,386.89 L110.90,386.88 L111.40,386.88 L111.90,386.88 L112.40,386.88 L112.90,386.87 L113.40,386.87 L113.90,386.87 L114.40,386.86 L114.90,386.86 L115.40,386.86 L115.90,386.85 L116.40,386.85 L116.90,386.84 L117.40,386.84 L117.90,386.84 L118.40,386.83 L118.90,386.83 L119.40,386.82 L119.90,386.82 L120.40,386.81 L120.90,386.80 L121.40,386.80 L121.90,386.79 L122.40,386.79 L122.90,386.78 L123.40,386.78 L123.90,386.77 L124.40,386.76 L124.90,386.76 L125.40,386.75 L125.90,386.74 L126.40,386.74 L126.90,386.73 L127.40,386.72 L127.90,386.71 L128.40,386.71 L128.90,386.70 L129.40,386.69 L129.90,386.68 L130.40,386.68 L130.90,386.67 L131.40,386.66 L131.90,386.65 L132.40,386.64 L132.90,386.63 L133.40,386.62 L133.90,386.62 L134.40,386.61 L134.90,386.60 L135.40,386.59 L135.90,386.58 L136.40,386.57 L136.90,386.56 L137.40,386.55 L137.90,386.54 L138.40,386.53 L138.90,386.52 L139.40,386.51 L139.90,386.50 L140.40,386.49 L140.90,386.48 L141.40,386.47 L141.90,386.45 L142.40,386.44 L142.90,386.42 L143.40,386.41 L143.90,386.39 L144.40,386.37 L144.90,386.35 L145.40,386.33 L145.90,386.31 L146.40,386.29 L146.90,386.26 L147.40,386.24 L147.90,386.21 L148.40,386.19 L148.90,386.16 L149.40,386.13 L149.90,386.10 L150.40,386.07 L150.90,386.04 L151.40,386.00 L151.90,385.97 L152.40,385.94 L152.90,385.90 L153.40,385.87 L153.90,385.83 L154.40,385.79 L154.90,385.75 L155.40,385.71 L155.90,385.67 L156.40,385.63 L156.90,385.59 L157.40,385.54 L157.90,385.50 L158.40,385.45 L158.90,385.41 L159.40,385.36 L159.90,385.31 L160.40,385.26 L160.90,385.20 L161.40,385.14 L161.90,385.07 L162.40,385.00 L162.90,384.92 L163.40,384.83 L163.90,384.75 L164.40,384.65 L164.90,384.55 L165.40,384.45 L165.90,384.35 L166.40,384.24 L166.90,384.12 L167.40,384.01 L167.90,383.89 L168.40,383.76 L168.90,383.64 L169.40,383.51 L169.90,383.38 L170.40,383.25 L170.90,383.11 L171.40,382.96 L171.90,382.82 L172.40,382.66 L172.90,382.50 L173.40,382.33 L173.90,382.15 L174.40,381.97 L174.90,381.77 L175.40,381.57 L175.90,381.37 L176.40,381.15 L176.90,380.92 L177.40,380.69 L177.90,380.45 L178.40,380.19 L178.90,379.93 L179.40,379.66 L179.90,379.37 L180.40,379.08 L180.90,378.76 L181.40,378.41 L181.90,378.03 L182.40,377.62 L182.90,377.18 L183.40,376.71 L183.90,376.22 L184.40,375.69 L184.90,375.13 L185.40,374.54 L185.90,373.93 L186.40,373.26 L186.90,372.49 L187.40,371.64 L187.90,370.71 L188.40,369.72 L188.90,368.67 L189.40,367.57 L189.90,366.43 L190.40,365.25 L190.90,364.00 L191.40,362.66 L191.90,361.24 L192.40,359.73 L192.90,358.13 L193.40,356.43 L193.90,354.63 L194.40,352.64 L194.90,350.45 L195.40,348.08 L195.90,345.56 L196.40,342.91 L196.90,340.16 L197.40,337.33 L197.90,334.45 L198.40,331.55 L198.90,328.64 L199.40,325.76 L199.90,322.93 L200.40,320.18 L200.90,317.53 L201.40,315.00 L201.90,312.57 L202.40,310.20 L202.90,307.87 L203.40,305.58 L203.90,303.31 L204.40,301.06 L204.90,298.81 L205.40,296.57 L205.90,294.31 L206.40,292.03 L206.90,289.73 L207.40,287.39 L207.90,285.00 L208.40,282.33 L208.90,279.39 L209.40,276.49 L209.90,274.00 L210.40,272.24 L210.90,271.22 L211.40,270.43 L211.90,269.78 L212.40,269.23 L212.90,268.70 L213.40,268.14 L213.90,267.52 L214.40,266.87 L214.90,266.20 L215.40,265.53 L215.90,264.86 L216.40,264.21 L216.90,263.58 L217.40,262.99 L217.90,262.44 L218.40,261.94 L218.90,261.50 L219.40,261.13 L219.90,260.81 L220.40,260.50 L220.90,260.23 L221.40,259.97 L221.90,259.73 L222.40,259.52 L222.90,259.32 L223.40,259.13 L223.90,258.97 L224.40,258.81 L224.90,258.67 L225.40,258.53 L225.90,258.41 L226.40,258.29 L226.90,258.17 L227.40,258.06 L227.90,257.96 L228.40,257.85 L228.90,257.74 L229.40,257.64 L229.90,257.53 L230.40,257.43 L230.90,257.33 L231.40,257.24 L231.90,257.15 L232.40,257.08 L232.90,257.01 L233.40,256.96 L233.90,256.91 L234.40,256.88 L234.90,256.85 L235.40,256.82 L235.90,256.80 L236.40,256.77 L236.90,256.74 L237.40,256.72 L237.90,256.70 L238.40,256.67 L238.90,256.65 L239.40,256.63 L239.90,256.61 L240.40,256.59 L240.90,256.57 L241.40,256.55 L241.90,256.53 L242.40,256.51 L242.90,256.50 L243.40,256.48 L243.90,256.46 L244.40,256.45 L244.90,256.43 L245.40,256.42 L245.90,256.40 L246.40,256.39 L246.90,256.38 L247.40,256.36 L247.90,256.35 L248.40,256.34 L248.90,256.33 L249.40,256.32 L249.90,256.31 L250.40,256.30 L250.90,256.28 L251.40,256.27 L251.90,256.26 L252.40,256.25 L252.90,256.24 L253.40,256.23 L253.90,256.22 L254.40,256.21 L254.90,256.20 L255.40,256.19 L255.90,256.18 L256.40,256.17 L256.90,256.16 L257.40,256.15 L257.90,256.14 L258.40,256.13 L258.90,256.12 L259.40,256.11 L259.90,256.10 L260.40,256.09 L260.90,256.08 L261.40,256.07 L261.90,256.06 L262.40,256.05 L262.90,256.04 L263.40,256.03 L263.90,256.02 L264.40,256.01 L264.90,255.99 L265.40,255.98 L265.90,255.97 L266.40,255.96 L266.90,255.95 L267.40,255.94 L267.90,255.93 L268.40,255.92 L268.90,255.91 L269.40,255.90 L269.90,255.89 L270.40,255.88 L270.90,255.87 L271.40,255.86 L271.90,255.85 L272.40,255.84 L272.90,255.83 L273.40,255.82 L273.90,255.81 L274.40,255.81 L274.90,255.80 L275.40,255.79 L275.90,255.78 L276.40,255.77 L276.90,255.76 L277.40,255.75 L277.90,255.74 L278.40,255.73 L278.90,255.73 L279.40,255.72 L279.90,255.71 L280.40,255.70 L280.90,255.69 L281.40,255.68 L281.90,255.68 L282.40,255.67 L282.90,255.66 L283.40,255.65 L283.90,255.65 L284.40,255.64 L284.90,255.63 L285.40,255.62 L285.90,255.62 L286.40,255.61 L286.90,255.60 L287.40,255.60 L287.90,255.59 L288.40,255.58 L288.90,255.58 L289.40,255.57 L289.90,255.57 L290.40,255.56 L290.90,255.55 L291.40,255.55 L291.90,255.54 L292.40,255.54 L292.90,255.53 L293.40,255.53 L293.90,255.52 L294.40,255.52 L294.90,255.51 L295.40,255.51 L295.90,255.50 L296.40,255.50" fill="none" stroke="#4a4a4a" stroke-width="1.0"/>
<rect x="110.50" y="383.20" width="5.8" height="5.8" fill="#000"/>
<rect x="119.90" y="387.00" width="5.8" height="5.8" fill="#000"/>
<rect x="129.10" y="385.50" width="5.8" height="5.8" fill="#000"/>
<rect x="138.40" y="383.20" width="5.8" height="5.8" fill="#000"/>
<rect x="147.90" y="383.20" width="5.8" height="5.8" fill="#000"/>
<rect x="157.50" y="383.70" width="5.8" height="5.8" fill="#000"/>
<rect x="167.30" y="379.50" width="5.8" height="5.8" fill="#000"/>
<rect x="177.10" y="375.70" width="5.8" height="5.8" fill="#000"/>
<rect x="186.90" y="362.60" width="5.8" height="5.8" fill="#000"/>
<rect x="196.90" y="324.90" width="5.8" height="5.8" fill="#000"/>
<rect x="207.30" y="267.50" width="5.8" height="5.8" fill="#000"/>
<rect x="217.10" y="255.30" width="5.8" height="5.8" fill="#000"/>
<rect x="227.70" y="256.10" width="5.8" height="5.8" fill="#000"/>
<rect x="238.10" y="254.60" width="5.8" height="5.8" fill="#000"/>
<rect x="248.40" y="255.20" width="5.8" height="5.8" fill="#000"/>
<rect x="258.90" y="255.50" width="5.8" height="5.8" fill="#000"/>
<rect x="269.70" y="252.10" width="5.8" height="5.8" fill="#000"/>
<rect x="280.40" y="254.20" width="5.8" height="5.8" fill="#000"/>
<rect x="291.00" y="251.70" width="5.8" height="5.8" fill="#000"/>
<path d="M452.60,386.66 L453.10,386.65 L453.60,386.64 L454.10,386.63 L454.60,386.62 L455.10,386.61 L455.60,386.60 L456.10,386.59 L456.60,386.58 L457.10,386.57 L457.60,386.56 L458.10,386.55 L458.60,386.54 L459.10,386.53 L459.60,386.51 L460.10,386.50 L460.60,386.49 L461.10,386.48 L461.60,386.46 L462.10,386.45 L462.60,386.44 L463.10,386.43 L463.60,386.41 L464.10,386.40 L464.60,386.38 L465.10,386.37 L465.60,386.36 L466.10,386.34 L466.60,386.33 L467.10,386.31 L467.60,386.30 L468.10,386.28 L468.60,386.26 L469.10,386.25 L469.60,386.23 L470.10,386.22 L470.60,386.20 L471.10,386.18 L471.60,386.16 L472.10,386.14 L472.60,386.13 L473.10,386.11 L473.60,386.09 L474.10,386.07 L474.60,386.05 L475.10,386.03 L475.60,386.01 L476.10,385.99 L476.60,385.97 L477.10,385.94 L477.60,385.92 L478.10,385.90 L478.60,385.88 L479.10,385.85 L479.60,385.83 L480.10,385.80 L480.60,385.78 L481.10,385.75 L481.60,385.73 L482.10,385.70 L482.60,385.67 L483.10,385.65 L483.60,385.62 L484.10,385.59 L484.60,385.56 L485.10,385.53 L485.60,385.50 L486.10,385.47 L486.60,385.43 L487.10,385.40 L487.60,385.37 L488.10,385.33 L488.60,385.30 L489.10,385.26 L489.60,385.22 L490.10,385.19 L490.60,385.15 L491.10,385.11 L491.60,385.07 L492.10,385.02 L492.60,384.98 L493.10,384.94 L493.60,384.89 L494.10,384.85 L494.60,384.80 L495.10,384.75 L495.60,384.70 L496.10,384.65 L496.60,384.60 L497.10,384.55 L497.60,384.49 L498.10,384.44 L498.60,384.38 L499.10,384.32 L499.60,384.26 L500.10,384.20 L500.60,384.13 L501.10,384.07 L501.60,384.00 L502.10,383.93 L502.60,383.86 L503.10,383.78 L503.60,383.71 L504.10,383.63 L504.60,383.55 L505.10,383.47 L505.60,383.38 L506.10,383.30 L506.60,383.21 L507.10,383.11 L507.60,383.02 L508.10,382.92 L508.60,382.82 L509.10,382.71 L509.60,382.60 L510.10,382.49 L510.60,382.37 L511.10,382.25 L511.60,382.13 L512.10,382.00 L512.60,381.87 L513.10,381.73 L513.60,381.59 L514.10,381.45 L514.60,381.30 L515.10,381.14 L515.60,380.98 L516.10,380.81 L516.60,380.64 L517.10,380.46 L517.60,380.27 L518.10,380.07 L518.60,379.87 L519.10,379.66 L519.60,379.45 L520.10,379.22 L520.60,378.99 L521.10,378.74 L521.60,378.49 L522.10,378.23 L522.60,377.95 L523.10,377.67 L523.60,377.37 L524.10,377.06 L524.60,376.74 L525.10,376.40 L525.60,376.05 L526.10,375.69 L526.60,375.31 L527.10,374.91 L527.60,374.50 L528.10,374.06 L528.60,373.61 L529.10,373.14 L529.60,372.64 L530.10,372.12 L530.60,371.58 L531.10,371.02 L531.60,370.43 L532.10,369.81 L532.60,369.16 L533.10,368.49 L533.60,367.78 L534.10,367.04 L534.60,366.26 L535.10,365.45 L535.60,364.60 L536.10,363.72 L536.60,362.79 L537.10,361.82 L537.60,360.81 L538.10,359.75 L538.60,358.64 L539.10,357.49 L539.60,356.29 L540.10,355.03 L540.60,353.73 L541.10,352.37 L541.60,350.97 L542.10,349.50 L542.60,347.99 L543.10,346.42 L543.60,344.81 L544.10,343.14 L544.60,341.42 L545.10,339.66 L545.60,337.85 L546.10,336.00 L546.60,334.11 L547.10,332.18 L547.60,330.23 L548.10,328.24 L548.60,326.24 L549.10,324.22 L549.60,322.19 L550.10,320.16 L550.60,318.12 L551.10,316.09 L551.60,314.07 L552.10,312.07 L552.60,310.09 L553.10,308.14 L553.60,306.22 L554.10,304.33 L554.60,302.48 L555.10,300.67 L555.60,298.91 L556.10,297.20 L556.60,295.53 L557.10,293.92 L557.60,292.35 L558.10,290.84 L558.60,289.38 L559.10,287.98 L559.60,286.63 L560.10,285.33 L560.60,284.08 L561.10,282.88 L561.60,281.73 L562.10,280.62 L562.60,279.57 L563.10,278.56 L563.60,277.59 L564.10,276.66 L564.60,275.78 L565.10,274.93 L565.60,274.12 L566.10,273.35 L566.60,272.61 L567.10,271.90 L567.60,271.23 L568.10,270.58 L568.60,269.97 L569.10,269.38 L569.60,268.82 L570.10,268.28 L570.60,267.76 L571.10,267.27 L571.60,266.80 L572.10,266.34 L572.60,265.91 L573.10,265.50 L573.60,265.10 L574.10,264.72 L574.60,264.36 L575.10,264.01 L575.60,263.67 L576.10,263.35 L576.60,263.04 L577.10,262.75 L577.60,262.46 L578.10,262.19 L578.60,261.93 L579.10,261.67 L579.60,261.43 L580.10,261.20 L580.60,260.97 L581.10,260.76 L581.60,260.55 L582.10,260.35 L582.60,260.15 L583.10,259.97 L583.60,259.79 L584.10,259.61 L584.60,259.44 L585.10,259.28 L585.60,259.13 L586.10,258.98 L586.60,258.83 L587.10,258.69 L587.60,258.55 L588.10,258.42 L588.60,258.29 L589.10,258.17 L589.60,258.05 L590.10,257.94 L590.60,257.82 L591.10,257.72 L591.60,257.61 L592.10,257.51 L592.60,257.41 L593.10,257.31 L593.60,257.22 L594.10,257.13 L594.60,257.04 L595.10,256.96 L595.60,256.88 L596.10,256.80 L596.60,256.72 L597.10,256.64 L597.60,256.57 L598.10,256.50 L598.60,256.43 L599.10,256.36 L599.60,256.29 L600.10,256.23 L600.60,256.17 L601.10,256.11 L601.60,256.05 L602.10,255.99 L602.60,255.94 L603.10,255.88 L603.60,255.83 L604.10,255.78 L604.60,255.72 L605.10,255.68 L605.60,255.63 L606.10,255.58 L606.60,255.53 L607.10,255.49 L607.60,255.45 L608.10,255.40 L608.60,255.36 L609.10,255.32 L609.60,255.28 L610.10,255.24 L610.60,255.21 L611.10,255.17 L611.60,255.13 L612.10,255.10 L612.60,255.06 L613.10,255.03 L613.60,255.00 L614.10,254.96 L614.60,254.93 L615.10,254.90 L615.60,254.87 L616.10,254.84 L616.60,254.81 L617.10,254.78 L617.60,254.76 L618.10,254.73 L618.60,254.70 L619.10,254.68 L619.60,254.65 L620.10,254.63 L620.60,254.60 L621.10,254.58 L621.60,254.55 L622.10,254.53 L622.60,254.51 L623.10,254.49 L623.60,254.46 L624.10,254.44 L624.60,254.42 L625.10,254.40 L625.60,254.38 L626.10,254.36 L626.60,254.34 L627.10,254.32 L627.60,254.30 L628.10,254.29 L628.60,254.27 L629.10,254.25 L629.60,254.23 L630.10,254.22 L630.60,254.20 L631.10,254.18 L631.60,254.17 L632.10,254.15 L632.60,254.13 L633.10,254.12 L633.60,254.10 L634.10,254.09 L634.60,254.07 L635.10,254.06 L635.60,254.05 L636.10,254.03 L636.60,254.02 L637.10,254.01 L637.60,253.99 L638.10,253.98 L638.60,253.97 L639.10,253.95 L639.60,253.94 L640.10,253.93 L640.60,253.92 L641.10,253.91 L641.60,253.89" fill="none" stroke="#4a4a4a" stroke-width="1.0"/>
<rect x="461.00" y="383.90" width="5.8" height="5.8" fill="#000"/>
<rect x="472.60" y="383.90" width="5.8" height="5.8" fill="#000"/>
<rect x="484.10" y="383.90" width="5.8" height="5.8" fill="#000"/>
<rect x="496.30" y="382.30" width="5.8" height="5.8" fill="#000"/>
<rect x="508.60" y="379.20" width="5.8" height="5.8" fill="#000"/>
<rect x="520.60" y="370.90" width="5.8" height="5.8" fill="#000"/>
<rect x="532.70" y="360.30" width="5.8" height="5.8" fill="#000"/>
<rect x="544.90" y="329.30" width="5.8" height="5.8" fill="#000"/>
<rect x="557.80" y="277.30" width="5.8" height="5.8" fill="#000"/>
<rect x="570.70" y="263.60" width="5.8" height="5.8" fill="#000"/>
<rect x="583.60" y="257.40" width="5.8" height="5.8" fill="#000"/>
<rect x="596.30" y="253.10" width="5.8" height="5.8" fill="#000"/>
<rect x="609.70" y="251.10" width="5.8" height="5.8" fill="#000"/>
<rect x="622.90" y="250.80" width="5.8" height="5.8" fill="#000"/>
<rect x="636.10" y="251.40" width="5.8" height="5.8" fill="#000"/>
</g></svg>
</body></html>
